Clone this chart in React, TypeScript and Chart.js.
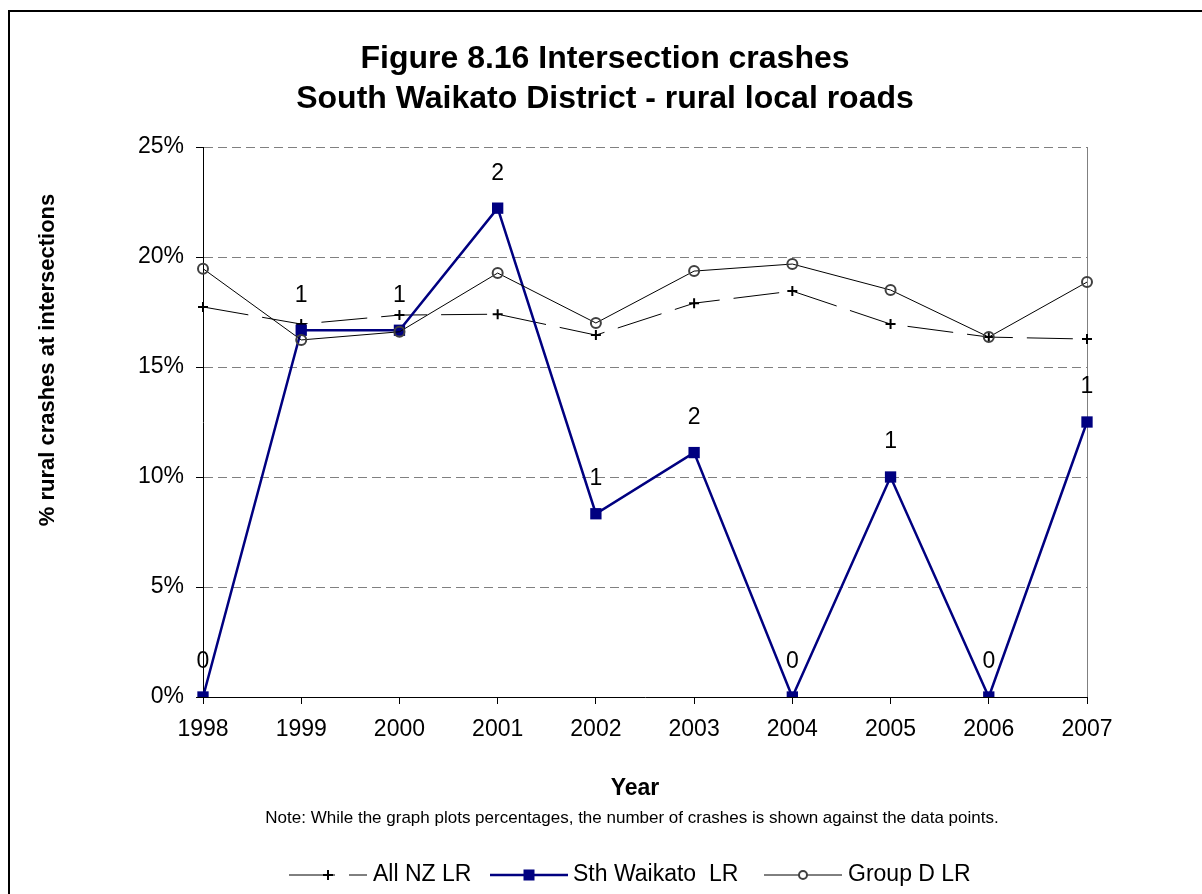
import React, { useEffect, useRef } from 'react';
import { Chart, registerables } from 'chart.js';

Chart.register(...registerables);

const years = ['1998', '1999', '2000', '2001', '2002', '2003', '2004', '2005', '2006', '2007'];
const allNZ = [17.73, 16.95, 17.36, 17.4, 16.45, 17.9, 18.45, 16.95, 16.36, 16.27];
const sthWaikato = [0, 16.67, 16.67, 22.22, 8.33, 11.11, 0, 10.0, 0, 12.5];
const groupD = [19.47, 16.23, 16.6, 19.27, 17.0, 19.36, 19.68, 18.5, 16.36, 18.86];
const crashCounts = [0, 1, 1, 2, 1, 2, 0, 1, 0, 1];
const yMin = 0;
const yMax = 25;
const yStep = 5;

const titleLines = ['Figure 8.16 Intersection crashes', 'South Waikato District - rural local roads'];
const xTitle = 'Year';
const yTitle = '% rural crashes at intersections';
const noteText = 'Note: While the graph plots percentages, the number of crashes is shown against the data points.';
const seriesNames = ['All NZ LR', 'Sth Waikato  LR', 'Group D LR'];

const FONT = '"Liberation Sans", Arial, sans-serif';
const NAVY = '#000080';

const decorPlugin = {
  id: 'decor',
  beforeDatasetsDraw(chart: any) {
    const { ctx, chartArea } = chart;
    ctx.save();
    ctx.strokeStyle = '#808080';
    ctx.lineWidth = 1;
    ctx.beginPath();
    ctx.moveTo(Math.round(chartArea.right) + 0.5, chartArea.top);
    ctx.lineTo(Math.round(chartArea.right) + 0.5, chartArea.bottom);
    ctx.stroke();
    ctx.restore();
  },
  afterDatasetsDraw(chart: any) {
    const { ctx } = chart;
    const meta = chart.getDatasetMeta(1);
    ctx.save();
    ctx.fillStyle = '#000';
    ctx.font = `23px ${FONT}`;
    ctx.textAlign = 'center';
    ctx.textBaseline = 'middle';
    meta.data.forEach((pt: any, i: number) => {
      ctx.fillText(String(crashCounts[i]), pt.x, pt.y - 35);
    });
    ctx.restore();
  },
  afterDraw(chart: any) {
    const { ctx } = chart;
    ctx.save();
    // outer frame
    ctx.strokeStyle = '#000';
    ctx.lineWidth = 2;
    ctx.strokeRect(9, 11, 1300, 1000);

    // title
    ctx.fillStyle = '#000';
    ctx.textAlign = 'center';
    ctx.textBaseline = 'alphabetic';
    ctx.font = `bold 32px ${FONT}`;
    ctx.fillText(titleLines[0], 605, 68);
    ctx.fillText(titleLines[1], 605, 108);

    // y title
    ctx.save();
    ctx.translate(48, 360);
    ctx.rotate(-Math.PI / 2);
    ctx.font = `bold 22px ${FONT}`;
    ctx.textBaseline = 'middle';
    ctx.fillText(yTitle, 0, 0);
    ctx.restore();

    // x title
    ctx.font = `bold 23px ${FONT}`;
    ctx.textBaseline = 'middle';
    ctx.fillText(xTitle, 635, 789);

    // note
    ctx.font = `17px ${FONT}`;
    ctx.fillText(noteText, 632, 818);

    // legend
    const ly = 875;
    const items = [
      { x0: 289, x1: 367, tx: 373 },
      { x0: 490, x1: 568, tx: 573 },
      { x0: 764, x1: 842, tx: 848 },
    ];
    items.forEach((it, i) => {
      const ds = chart.data.datasets[i];
      ctx.save();
      ctx.strokeStyle = ds.borderColor;
      ctx.lineWidth = ds.borderWidth;
      ctx.setLineDash(ds.borderDash || []);
      ctx.beginPath();
      ctx.moveTo(it.x0, ly);
      ctx.lineTo(it.x1, ly);
      ctx.stroke();
      ctx.setLineDash([]);
      const mx = (it.x0 + it.x1) / 2;
      if (ds.pointStyle === 'cross') {
        ctx.lineWidth = 2;
        ctx.strokeStyle = ds.pointBorderColor;
        ctx.beginPath();
        ctx.moveTo(mx - 5, ly);
        ctx.lineTo(mx + 5, ly);
        ctx.moveTo(mx, ly - 5);
        ctx.lineTo(mx, ly + 5);
        ctx.stroke();
      } else if (ds.pointStyle === 'rect') {
        ctx.fillStyle = ds.pointBackgroundColor;
        ctx.fillRect(mx - 5.5, ly - 5.5, 11, 11);
      } else {
        ctx.lineWidth = 2;
        ctx.strokeStyle = ds.pointBorderColor;
        ctx.fillStyle = '#fff';
        ctx.beginPath();
        ctx.arc(mx, ly, 4, 0, Math.PI * 2);
        ctx.fill();
        ctx.stroke();
      }
      ctx.restore();
      ctx.fillStyle = '#000';
      ctx.font = `23px ${FONT}`;
      ctx.textAlign = 'left';
      ctx.textBaseline = 'middle';
      ctx.fillText(seriesNames[i], it.tx, ly);
    });
    ctx.restore();
  },
};

export default function App() {
  const ref = useRef<HTMLCanvasElement>(null);
  useEffect(() => {
    if (!ref.current) return;
    const chart = new Chart(ref.current, {
      type: 'line',
      data: {
        labels: years,
        datasets: [
          {
            label: seriesNames[0],
            data: allNZ,
            borderColor: '#000',
            borderWidth: 1,
            borderDash: [46, 14],
            pointStyle: 'cross',
            pointRadius: 5,
            pointBorderWidth: 2,
            pointBorderColor: '#000',
            pointBackgroundColor: '#000',
            order: 2,
          },
          {
            label: seriesNames[1],
            data: sthWaikato,
            borderColor: NAVY,
            borderWidth: 2.5,
            pointStyle: 'rect',
            pointRadius: 8,
            pointBorderWidth: 0,
            pointBorderColor: NAVY,
            pointBackgroundColor: NAVY,
            order: 1,
          },
          {
            label: seriesNames[2],
            data: groupD,
            borderColor: '#000',
            borderWidth: 1,
            pointStyle: 'circle',
            pointRadius: 5,
            pointBorderWidth: 2,
            pointBorderColor: '#404040',
            pointBackgroundColor: 'rgba(0,0,0,0)',
            order: 0,
          },
        ],
      } as any,
      options: {
        responsive: false,
        animation: false,
        layout: { padding: { left: 0, right: 115, top: 147, bottom: 157 } },
        plugins: { legend: { display: false }, title: { display: false }, tooltip: { enabled: false } },
        scales: {
          x: {
            type: 'category',
            offset: false,
            grid: { display: true, drawOnChartArea: false, drawTicks: true, tickLength: 7, color: '#000', lineWidth: 1 },
            border: { display: true, color: '#000', width: 1 },
            ticks: { color: '#000', font: { family: FONT, size: 23 }, padding: 12, maxRotation: 0, autoSkip: false },
            afterFit: (s: any) => { s.height = 40; },
          },
          y: {
            min: yMin,
            max: yMax,
            grid: {
              color: (c: any) => (c.tick && c.tick.value === 0 ? 'rgba(0,0,0,0)' : '#808080'),
              tickColor: '#000',
              tickLength: 7,
              tickBorderDash: [],
              lineWidth: 1,
            },
            border: { display: true, color: '#000', width: 1, dash: [9, 5] },
            ticks: {
              stepSize: yStep,
              color: '#000',
              font: { family: FONT, size: 23 },
              padding: 12,
              callback: (v: any) => `${v}%`,
            },
            afterFit: (s: any) => { s.width = 203; },
          },
        },
      } as any,
      plugins: [decorPlugin],
    });
    return () => chart.destroy();
  }, []);
  return (
    <div style={{ position: 'absolute', left: 0, top: 0, width: 1202, height: 894, background: '#fff' }}>
      <canvas ref={ref} width={1202} height={894} style={{ display: 'block' }} />
    </div>
  );
}
